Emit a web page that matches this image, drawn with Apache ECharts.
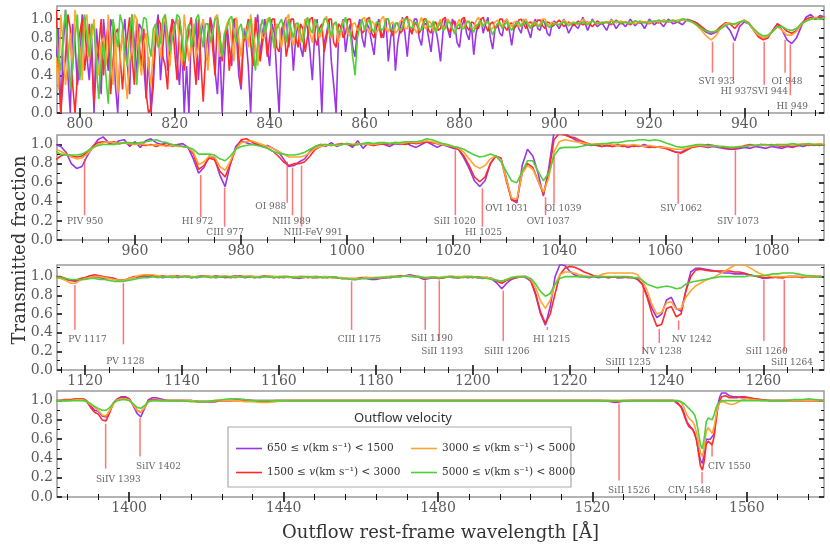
<!DOCTYPE html>
<html><head><meta charset="utf-8">
<script src="https://cdn.jsdelivr.net/npm/echarts/dist/echarts.min.js"></script>
<style>html,body{margin:0;padding:0;background:#fff}#c{width:830px;height:556px}</style>
</head><body><div id="c"></div>
<script>
// ---------------- DATA ----------------
const velLo = [650, 1500, 3000, 5000];
const velHi = [1500, 3000, 5000, 8000];
const velNames = velLo.map((lo, k) => lo + ' ≤ v(km s⁻¹) < ' + velHi[k]);
const colors = ['#9a35e8', '#ff2a2a', '#ffa530', '#4fcf3a'];

const xTicks1 = [800, 820, 840, 860, 880, 900, 920, 940];
const xTicks2 = [960, 980, 1000, 1020, 1040, 1060, 1080];
const xTicks3 = [1120, 1140, 1160, 1180, 1200, 1220, 1240, 1260];
const xTicks4 = [1400, 1440, 1480, 1520, 1560];
const yTicks = [0, 0.2, 0.4, 0.6, 0.8, 1.0];
const yMinor = [0.1, 0.3, 0.5, 0.7, 0.9, 1.1];

// Panel 1
const wl1 = [795,795.5,796,796.5,797,797.5,798,798.5,799,799.5,
800,800.5,801,801.5,802,802.5,803,803.5,804,804.5,
805,805.5,806,806.5,807,807.5,808,808.5,809,809.5,
810,810.5,811,811.5,812,812.5,813,813.5,814,814.5,
815,815.5,816,816.5,817,817.5,818,818.5,819,819.5,
820,820.5,821,821.5,822,822.5,823,823.5,824,824.5,
825,825.5,826,826.5,827,827.5,828,828.5,829,829.5,
830,830.5,831,831.5,832,832.5,833,833.5,834,834.5,
835,835.5,836,836.5,837,837.5,838,838.5,839,839.5,
840,840.5,841,841.5,842,842.5,843,843.5,844,844.5,
845,845.5,846,846.5,847,847.5,848,848.5,849,849.5,
850,850.5,851,851.5,852,852.5,853,853.5,854,854.5,
855,855.5,856,856.5,857,857.5,858,858.5,859,859.5,
860,860.5,861,861.5,862,862.5,863,863.5,864,864.5,
865,865.5,866,866.5,867,867.5,868,868.5,869,869.5,
870,870.5,871,871.5,872,872.5,873,873.5,874,874.5,
875,875.5,876,876.5,877,877.5,878,878.5,879,879.5,
880,880.5,881,881.5,882,882.5,883,883.5,884,884.5,
885,885.5,886,886.5,887,887.5,888,888.5,889,889.5,
890,890.5,891,891.5,892,892.5,893,893.5,894,894.5,
895,895.5,896,896.5,897,897.5,898,898.5,899,899.5,
900,901,902,903,904,905,906,907,908,909,910,911,912,913,914,
915,916,917,918,919,920,921,922,923,924,925,926,927,928,929,930,931,932,933,934,
935,936,937,938,939,940,941,942,943,944,945,946,947,948,949,950,951,952,953,954,
955,956,957];
const p1Purple = [0.55,0.9,0.0,0.7,1.1,0.4,0.0,0.95,0.75,0.3,
0.5,1.05,0.95,0.6,0.35,0.8,0.0,0.9,0.6,0.2,
1.0,0.7,0.45,1.0,0.9,0.3,0.0,0.65,0.8,1.0,
0.55,0.2,1.05,0.75,0.4,0.95,0.9,0.5,0.15,0.6,
0.0,0.3,0.85,1.05,0.35,0.7,1.0,0.45,0.6,1.0,
0.95,0.55,0.3,0.8,0.0,0.5,0.0,0.9,0.7,1.0,
0.35,0.8,1.0,0.6,0.55,1.02,0.9,0.45,0.2,0.75,
0.0,0.6,0.95,0.7,0.5,1.0,0.85,0.4,0.25,0.9,
0.8,0.5,0.0,0.75,0.9,1.05,0.6,0.85,1.0,0.7,
0.5,0.95,0.85,0.4,0.0,0.8,0.95,1.02,0.7,0.9,
0.45,0.8,0.95,0.7,0.6,1.0,0.9,0.65,0.35,0.85,
1.0,0.6,0.0,0.75,0.85,1.0,0.55,0.3,0.0,0.8,
0.9,1.0,0.65,0.85,0.95,0.7,0.6,0.9,1.0,0.8,
0.7,0.95,0.9,0.75,0.62,0.9,1.0,0.85,0.8,1.0,
0.55,0.8,0.95,0.45,0.75,0.9,1.02,0.85,0.6,0.9,
0.85,1.0,1.0,0.8,0.72,0.95,0.95,0.8,0.65,0.9,
0.9,0.75,0.55,0.85,1.0,0.9,0.8,1.0,0.95,0.75,
0.7,0.92,1.0,0.85,0.78,0.95,0.62,0.85,0.95,1.0,
0.85,0.95,1.02,0.8,0.68,0.9,0.95,0.85,0.82,0.97,
1.0,0.88,0.72,0.9,0.98,0.9,0.85,1.0,0.95,0.88,
0.8,0.95,1.0,0.9,0.88,1.0,0.95,0.85,0.82,0.95,
0.98,0.9,1.0,0.85,0.95,0.9,1.02,0.88,1.0,0.92,0.96,0.88,1.0,0.9,0.97,
0.92,1.0,0.93,0.98,0.9,1.0,0.94,0.98,0.92,1.0,0.95,0.97,0.94,1.0,0.98,0.96,0.9,0.86,0.84,0.86,
0.9,0.94,0.88,0.77,0.92,0.97,0.95,0.88,0.82,0.8,0.82,0.88,0.95,0.88,0.78,0.74,0.8,0.92,1.02,1.05,
1.0,1.04,1.02];
const p1Red = [1.1,0.5,0.0,0.35,0.6,1.05,0.9,0.3,0.0,0.4,
0.85,1.0,0.45,0.7,0.95,0.6,0.1,0.5,0.7,1.0,
0.4,0.75,0.95,0.2,0.55,0.85,0.9,0.6,0.25,0.65,
0.8,1.02,0.6,0.3,1.0,0.75,0.5,0.9,0.2,0.0,
0.05,0.45,0.75,1.0,0.95,0.6,0.5,0.25,0.85,1.0,
0.65,0.35,1.0,0.8,0.45,0.7,0.9,1.02,0.6,0.3,
1.0,0.55,0.12,0.6,0.85,1.0,0.7,0.4,1.0,0.85,
0.55,0.8,0.9,0.45,0.7,1.0,1.0,0.6,0.3,0.75,
0.85,1.0,0.75,0.5,1.02,0.8,0.55,0.75,0.9,0.6,
0.8,1.0,1.0,0.7,0.65,0.9,0.95,0.6,0.75,1.0,
1.0,0.8,0.7,0.95,0.9,0.65,0.82,1.0,1.02,0.8,
0.72,0.9,0.95,0.65,0.8,1.0,1.0,0.75,0.7,0.95,
0.92,0.8,0.85,1.0,1.0,0.82,0.78,0.9,0.95,0.85,
0.88,1.0,1.02,0.85,0.8,0.95,0.95,0.8,0.85,1.0,
1.0,0.88,0.82,0.95,0.96,0.85,0.88,1.0,1.03,0.9,
0.84,0.95,0.95,0.85,0.9,1.0,1.0,0.88,0.85,0.95,
0.97,0.88,0.9,1.0,1.02,0.9,0.86,0.95,0.98,0.9,
0.9,1.0,1.02,0.92,0.88,0.97,0.96,0.9,0.9,1.0,
1.02,0.93,0.87,0.95,0.97,0.9,0.92,1.0,1.0,0.92,
0.88,0.95,0.96,0.9,0.93,0.99,1.0,0.95,0.9,0.96,
0.97,0.92,0.94,0.99,0.99,0.93,0.9,0.97,0.96,0.92,
0.94,0.99,0.92,0.97,0.93,0.98,0.94,0.97,0.92,0.98,0.95,0.97,0.94,0.99,0.95,
0.97,0.94,0.98,0.96,0.97,0.95,0.98,0.96,0.99,0.97,0.98,0.97,1.0,0.99,0.98,0.96,0.92,0.88,0.86,0.87,
0.92,0.96,0.95,0.9,0.96,0.99,0.96,0.88,0.81,0.78,0.8,0.88,0.95,0.92,0.87,0.85,0.88,0.95,1.0,1.02,
1.0,1.02,1.01];
const p1Orange = [0.6,0.25,1.05,0.7,0.3,0.55,0.85,0.45,1.1,0.9,
0.7,0.35,0.95,1.05,0.55,0.8,1.0,0.6,0.4,0.75,
0.8,0.5,1.05,0.65,0.3,0.85,0.2,0.6,0.9,0.4,
0.15,0.55,0.7,1.05,1.0,0.6,0.4,0.75,0.85,0.5,
0.3,0.7,0.95,0.8,0.6,0.9,1.05,0.7,0.5,0.85,
0.9,1.02,0.75,0.5,1.05,0.8,0.55,0.75,0.95,0.6,
0.7,0.9,1.0,0.75,0.45,0.8,0.85,1.02,1.05,0.6,
0.65,0.85,0.95,1.0,0.75,0.55,1.02,0.8,0.6,0.9,
0.9,0.7,1.05,0.85,0.7,0.5,0.95,0.8,0.8,1.0,
1.02,0.85,0.68,0.95,0.92,0.7,0.85,1.0,1.05,0.8,
0.72,0.9,0.95,0.75,0.85,1.0,1.0,0.85,0.75,0.95,
0.95,0.8,0.88,1.0,1.03,0.85,0.8,0.95,0.95,0.75,
0.86,0.98,1.0,0.85,0.82,0.95,0.96,0.88,0.9,1.0,
1.02,0.9,0.85,0.98,0.95,0.85,0.9,1.0,1.03,0.9,
0.86,0.95,0.97,0.85,0.88,0.98,1.0,0.9,0.9,1.0,
0.97,0.9,0.85,0.95,1.02,0.92,0.9,0.98,0.96,0.88,
0.88,0.95,1.0,0.9,0.92,1.0,0.97,0.9,0.86,0.95,
1.0,0.92,0.92,0.98,0.97,0.9,0.9,0.98,1.02,0.94,
0.92,0.98,0.96,0.9,0.9,0.97,0.99,0.93,0.93,0.98,
1.0,0.95,0.92,0.97,0.97,0.92,0.94,0.99,1.0,0.95,
0.92,0.97,0.97,0.93,0.95,1.0,1.0,0.95,0.93,0.97,
0.96,0.94,0.99,0.95,0.97,0.94,1.0,0.96,0.98,0.95,0.97,0.96,0.99,0.96,0.98,
0.96,0.97,0.95,0.98,0.97,0.96,0.98,0.97,0.99,0.97,0.98,0.99,1.0,0.98,0.97,0.93,0.88,0.82,0.78,0.82,
0.9,0.95,0.96,0.94,0.97,0.99,0.95,0.88,0.83,0.8,0.82,0.87,0.92,0.88,0.83,0.83,0.87,0.94,0.98,1.0,
1.02,1.0,1.02];
const p1Green = [0.9,0.6,0.45,0.85,1.1,0.7,0.25,0.5,0.8,1.05,
0.35,0.7,1.05,0.8,0.6,0.95,0.9,0.5,0.15,0.55,
0.75,0.4,0.1,0.6,1.0,0.85,0.7,1.05,0.95,0.65,
0.5,0.85,1.05,0.6,0.3,0.7,0.85,1.02,1.0,0.75,
0.6,0.9,0.95,0.7,0.75,1.0,1.05,0.85,0.65,0.8,
0.9,1.05,1.02,0.8,0.55,0.85,0.95,0.7,0.8,1.0,
1.05,0.85,0.7,0.95,0.95,0.75,0.85,1.0,1.02,0.8,
0.6,0.85,0.9,1.0,1.03,0.85,0.75,0.9,0.95,0.8,
0.8,0.95,1.0,0.7,0.45,0.75,0.9,1.0,0.85,0.95,
1.02,0.85,0.7,0.9,0.95,1.0,0.88,0.75,1.0,0.9,
0.8,0.95,0.96,0.85,0.75,0.9,1.02,0.9,0.85,1.0,
0.94,0.85,0.9,1.0,1.0,0.9,0.82,0.95,0.97,0.85,
0.88,0.95,1.02,0.9,0.85,0.6,0.4,0.8,0.92,1.0,
0.88,0.95,1.0,0.9,0.86,0.97,0.96,0.88,0.9,1.0,
1.0,0.9,0.88,0.96,0.95,0.88,0.92,1.0,1.0,0.92,
0.9,0.97,0.96,0.9,0.88,0.96,1.0,0.92,0.92,0.98,
0.85,0.92,0.97,0.88,0.9,0.97,0.96,0.9,0.84,0.92,
0.95,0.9,0.9,0.96,0.98,0.9,0.86,0.93,0.95,0.98,
0.92,0.96,0.98,0.9,0.83,0.9,0.95,0.97,0.9,0.94,
0.97,0.92,0.88,0.93,0.95,0.97,0.92,0.95,0.98,0.93,
0.9,0.95,0.96,0.92,0.93,0.97,0.97,0.93,0.91,0.94,
0.95,0.94,0.97,0.93,0.96,0.95,0.97,0.94,0.98,0.95,0.96,0.97,0.95,0.98,0.96,
0.97,0.95,0.98,0.97,0.96,0.98,0.97,0.99,0.97,0.98,0.99,0.97,1.0,0.99,0.97,0.94,0.9,0.87,0.86,0.87,
0.9,0.93,0.95,0.95,0.97,0.98,0.95,0.9,0.85,0.82,0.83,0.87,0.92,0.92,0.89,0.88,0.9,0.95,0.98,1.0,
1.01,1.0,1.01];
// [label, wavelength, line top, line bottom, label wavelength, label value]
const marks1 = [
  ['SVI 933', 933.3, 0.76, 0.43, 934.2, 0.33],
  ['HI 937', 937.7, 0.75, 0.35, 938.3, 0.23],
  ['SVI 944', 944.2, 0.76, 0.30, 945.4, 0.23],
  ['OI 948', 948.6, 0.78, 0.43, 949.0, 0.33],
  ['HI 949', 949.7, 0.73, 0.19, 950.1, 0.07]
];

// Panel 2
const wl2 = [945,946,947,948,949,950,951,952,953,954,955,956,957,958,959,960,961,962,963,964,
965,966,967,968,969,970,971,972,973,974,975,976,977,978,979,980,981,982,983,984,
985,986,987,988,989,990,991,992,993,994,995,996,997,998,999,1000,1001,1002,1003,1004,
1005,1006,1007,1008,1009,1010,1011,1012,1013,1014,1015,1016,1017,1018,1019,1020,1021,1022,1023,1024,
1025,1026,1027,1028,1029,1030,1031,1032,1033,1034,1035,1036,1037,1038,1039,1040,1041,1042,1043,1044,
1045,1046,1047,1048,1049,1050,1051,1052,1053,1054,1055,1056,1057,1058,1059,1060,1061,1062,1063,1064,
1065,1066,1067,1068,1069,1070,1071,1072,1073,1074,1075,1076,1077,1078,1079,1080,1081,1082,1083,1084,
1085,1086,1087,1088,1089,1090];
const p2Purple = [1.0,0.98,0.92,0.8,0.75,0.77,0.88,0.97,1.05,1.08,
1.02,1.0,1.04,1.05,0.98,1.03,0.97,1.04,1.06,1.02,
1.0,1.02,0.98,1.0,1.01,0.97,0.85,0.7,0.76,0.88,
0.86,0.68,0.56,0.8,0.98,1.04,1.02,1.0,1.01,0.98,
0.99,0.96,0.93,0.85,0.77,0.78,0.82,0.85,0.93,0.98,
1.0,0.98,1.02,0.98,1.0,1.01,0.97,1.04,0.96,1.02,
0.99,1.02,1.0,0.98,1.01,1.0,1.02,0.99,0.97,1.0,
1.03,1.0,0.97,1.0,0.98,0.96,0.95,0.86,0.75,0.62,
0.56,0.62,0.8,0.88,0.86,0.65,0.42,0.39,0.78,0.95,
0.88,0.7,0.46,0.75,1.13,1.15,1.12,1.08,1.05,1.02,
1.0,0.99,1.0,0.98,0.99,0.98,1.0,0.99,0.97,0.99,
0.98,1.0,0.98,0.97,0.98,0.96,0.94,0.92,0.92,0.95,
0.98,0.99,0.98,0.97,0.98,0.97,0.96,0.95,0.95,0.96,
0.97,0.96,0.98,0.97,0.96,0.98,0.97,0.96,0.98,0.97,
0.99,0.98,1.0,0.99,1.0,0.99];
const p2Red = [0.84,0.88,0.9,0.88,0.87,0.88,0.92,0.98,1.02,1.03,
1.02,1.03,1.01,1.02,1.0,1.02,1.0,0.99,1.0,0.98,
1.0,0.99,1.0,0.99,0.98,0.97,0.9,0.74,0.78,0.86,
0.84,0.72,0.66,0.8,0.95,1.05,1.06,1.03,1.0,0.98,
0.96,0.93,0.88,0.82,0.78,0.8,0.8,0.82,0.88,0.95,
0.98,1.0,0.99,1.0,1.01,1.0,0.99,1.0,1.01,1.0,
0.99,1.0,1.01,1.0,1.02,1.01,1.0,1.02,1.01,1.02,
1.03,1.02,1.01,1.0,0.99,0.97,0.95,0.88,0.78,0.66,
0.61,0.66,0.8,0.88,0.85,0.62,0.42,0.41,0.7,0.8,
0.76,0.62,0.48,0.7,1.05,1.12,1.1,1.08,1.07,1.04,
1.02,1.0,0.99,0.98,0.99,0.98,0.99,0.98,0.99,0.98,
0.99,0.98,0.97,0.98,0.97,0.96,0.94,0.92,0.91,0.94,
0.97,0.98,0.99,1.0,0.99,0.98,0.97,0.96,0.96,0.97,
0.99,1.0,0.99,1.0,0.99,1.0,0.99,0.98,0.99,0.98,
0.99,1.0,0.99,1.0,0.99,1.0];
const p2Orange = [0.95,0.93,0.9,0.87,0.85,0.86,0.9,0.96,1.0,1.02,
1.03,1.02,1.01,1.02,1.01,1.0,1.01,1.0,0.99,1.0,
0.99,0.98,0.99,0.98,0.98,0.97,0.92,0.79,0.82,0.88,
0.87,0.77,0.73,0.83,0.95,1.02,1.03,1.04,1.02,1.0,
0.98,0.96,0.93,0.9,0.87,0.87,0.87,0.88,0.92,0.96,
0.98,0.99,1.0,0.99,1.0,1.01,1.0,1.01,1.0,1.01,
1.0,1.01,1.02,1.01,1.02,1.01,1.02,1.03,1.02,1.03,
1.04,1.03,1.01,1.0,0.99,0.98,0.96,0.92,0.85,0.78,
0.75,0.78,0.85,0.88,0.84,0.64,0.44,0.43,0.7,0.78,
0.74,0.62,0.5,0.65,0.92,1.03,1.05,1.04,1.03,1.02,
1.01,1.0,1.01,1.0,1.01,1.0,0.99,1.0,0.99,1.0,
0.99,0.98,0.99,0.98,0.97,0.97,0.96,0.95,0.95,0.96,
0.98,0.99,0.99,0.98,0.99,0.98,0.98,0.97,0.97,0.98,
0.98,0.99,0.99,1.0,0.99,0.99,1.0,0.99,1.0,0.99,
1.0,1.01,1.0,1.0,1.01,1.0];
const p2Green = [0.93,0.9,0.89,0.89,0.89,0.9,0.93,0.97,0.99,1.0,
1.0,1.0,1.01,1.02,1.02,1.01,1.02,1.03,1.04,1.05,
1.03,1.02,1.0,0.99,0.98,0.97,0.95,0.9,0.9,0.9,
0.89,0.85,0.83,0.88,0.95,0.98,0.99,1.0,0.99,0.98,
0.96,0.93,0.91,0.9,0.89,0.89,0.9,0.92,0.95,0.98,
1.0,1.0,0.99,1.0,1.0,1.01,1.0,1.0,1.01,1.02,
1.01,1.02,1.02,1.01,1.02,1.02,1.03,1.03,1.03,1.04,
1.06,1.05,1.03,1.01,1.0,0.98,0.97,0.95,0.92,0.89,
0.87,0.88,0.9,0.88,0.82,0.72,0.62,0.6,0.72,0.83,
0.83,0.72,0.62,0.7,0.88,0.96,0.97,0.97,0.97,0.98,
0.99,1.0,1.0,1.01,1.01,1.02,1.02,1.03,1.04,1.04,
1.05,1.05,1.04,1.05,1.04,1.02,1.0,0.98,0.97,0.98,
0.99,1.0,1.0,0.99,0.99,0.98,0.98,0.97,0.97,0.98,
0.98,0.99,0.99,1.0,1.0,0.99,1.0,1.0,1.0,1.01,
1.0,1.0,1.01,1.0,1.0,1.0];
const marks2 = [
  ['PIV 950', 950.5, 0.85, 0.26, 950.6, 0.19],
  ['HI 972', 972.4, 0.68, 0.24, 971.8, 0.19],
  ['CIII 977', 976.9, 0.55, 0.14, 977.0, 0.08],
  ['OI 988', 988.7, 0.82, 0.39, 985.6, 0.35],
  ['NIII 989', 989.7, 0.76, 0.26, 989.5, 0.19],
  ['NIII-FeV 991', 991.4, 0.78, 0.14, 993.6, 0.08],
  ['SiII 1020', 1020.4, 0.94, 0.26, 1020.3, 0.19],
  ['HI 1025', 1025.5, 0.54, 0.14, 1025.7, 0.08],
  ['OVI 1031', 1031.4, 0.37, 0.365, 1030.1, 0.33],
  ['OVI 1037', 1037.4, 0.45, 0.26, 1037.9, 0.19],
  ['OI 1039', 1039.0, 0.87, 0.38, 1040.7, 0.33],
  ['SIV 1062', 1062.4, 0.90, 0.38, 1063.0, 0.33],
  ['SIV 1073', 1073.2, 0.94, 0.26, 1073.7, 0.19]
];

// Panel 3
const wl3 = [1114,1115,1116,1117,1118,1119,1120,1121,1122,1123,1124,1125,1126,1127,1128,1129,1130,1131,1132,1133,
1134,1135,1136,1137,1138,1139,1140,1141,1142,1143,1144,1145,1146,1147,1148,1149,1150,1151,1152,1153,
1154,1155,1156,1157,1158,1159,1160,1161,1162,1163,1164,1165,1166,1167,1168,1169,1170,1171,1172,1173,
1174,1175,1176,1177,1178,1179,1180,1181,1182,1183,1184,1185,1186,1187,1188,1189,1190,1191,1192,1193,
1194,1195,1196,1197,1198,1199,1200,1201,1202,1203,1204,1205,1206,1207,1208,1209,1210,1211,1212,1213,
1214,1215,1216,1217,1218,1219,1220,1221,1222,1223,1224,1225,1226,1227,1228,1229,1230,1231,1232,1233,
1234,1235,1236,1237,1238,1239,1240,1241,1242,1243,1244,1245,1246,1247,1248,1249,1250,1251,1252,1253,
1254,1255,1256,1257,1258,1259,1260,1261,1262,1263,1264,1265,1266,1267,1268,1269,1270,1271,1272];
const p3Purple = [1.0,0.99,0.97,0.96,0.95,0.97,0.98,0.99,1.0,0.99,
0.98,0.99,0.98,0.96,0.96,0.98,0.99,1.0,1.01,1.0,
1.01,1.0,0.99,1.0,1.01,0.99,1.0,1.01,1.0,0.99,
1.0,1.01,1.0,0.99,1.0,0.99,1.0,1.01,1.0,0.99,
1.0,1.0,0.99,1.0,1.0,0.99,1.0,0.99,1.0,0.99,
0.98,0.99,1.0,0.99,0.99,1.0,0.99,1.0,0.99,0.98,
0.98,0.97,0.97,0.98,0.98,0.97,0.97,0.98,0.99,0.99,
1.0,1.0,1.01,1.02,1.01,0.99,0.97,0.98,0.99,0.98,
0.99,1.0,0.99,0.99,1.0,0.99,1.0,0.99,0.98,0.99,
0.97,0.93,0.87,0.93,0.97,0.99,1.0,0.99,0.95,0.8,
0.6,0.48,0.68,1.0,1.13,1.12,1.06,1.02,1.0,1.0,
0.99,1.0,0.99,1.0,0.99,1.0,0.99,0.99,1.0,0.99,
0.97,0.92,0.8,0.66,0.56,0.6,0.75,0.78,0.66,0.63,
0.85,1.05,1.09,1.09,1.08,1.07,1.06,1.05,1.04,1.04,
1.03,1.03,1.03,1.02,1.01,1.0,0.98,0.99,0.99,1.0,
0.99,1.0,1.0,1.0,0.99,1.0,1.0,1.0,1.0];
const p3Red = [1.0,1.0,0.98,0.96,0.96,0.98,0.99,1.01,1.02,1.01,
1.0,0.99,0.98,0.96,0.96,0.98,1.0,1.0,1.01,1.02,
1.01,1.0,1.01,1.0,1.0,1.01,1.0,1.0,0.99,1.0,
1.01,1.0,1.0,1.01,1.0,1.0,0.99,1.0,1.01,1.0,
1.0,0.99,1.0,1.01,1.0,1.0,0.99,1.0,1.0,0.99,
1.0,1.0,0.99,1.0,1.0,0.99,1.0,0.99,0.99,0.98,
0.98,0.98,0.98,0.99,0.99,0.98,0.98,0.99,0.99,1.0,
1.0,1.01,1.01,1.01,1.0,1.0,0.98,0.99,1.0,0.98,
0.99,1.0,1.0,0.99,1.0,1.0,0.99,1.0,0.99,0.99,
0.98,0.95,0.93,0.96,0.98,0.99,1.0,1.0,0.96,0.82,
0.62,0.5,0.6,0.82,1.02,1.09,1.11,1.1,1.08,1.05,
1.03,1.01,1.0,1.0,0.99,1.0,0.99,1.0,0.99,0.99,
0.98,0.92,0.78,0.6,0.47,0.49,0.66,0.68,0.57,0.6,
0.85,1.0,1.07,1.08,1.07,1.06,1.06,1.06,1.06,1.06,
1.05,1.05,1.04,1.02,1.01,1.0,0.99,0.99,1.0,0.99,
0.99,1.0,1.0,1.0,1.0,1.0,1.0,1.0,1.0];
const p3Orange = [0.99,0.98,0.96,0.93,0.93,0.96,0.98,0.99,1.0,1.0,
0.99,0.98,0.97,0.96,0.96,0.98,0.99,1.01,1.02,1.02,
1.02,1.01,1.0,1.0,1.01,1.0,1.0,1.01,1.0,1.0,
1.0,1.01,1.0,1.0,1.0,1.01,1.0,1.0,1.0,1.0,
1.01,1.0,1.0,1.0,1.01,1.0,1.0,1.0,0.99,1.0,
1.0,0.99,1.0,1.0,0.99,1.0,1.0,0.99,0.99,0.99,
0.98,0.98,0.98,0.98,0.99,0.99,0.99,0.99,1.0,1.0,
1.0,1.0,1.01,1.01,1.0,1.0,0.99,0.99,1.0,0.99,
1.0,1.0,1.0,1.0,1.0,1.0,1.0,0.99,0.99,0.99,
0.98,0.96,0.95,0.97,0.99,1.0,1.0,1.0,0.97,0.88,
0.74,0.66,0.75,0.92,1.02,1.05,1.05,1.04,1.02,1.01,
1.0,1.0,1.01,1.03,1.04,1.04,1.04,1.04,1.04,1.04,
1.02,0.96,0.85,0.7,0.6,0.62,0.72,0.73,0.65,0.66,
0.78,0.85,0.9,0.93,0.96,0.98,1.0,1.03,1.06,1.09,
1.12,1.14,1.13,1.1,1.07,1.04,1.02,1.01,1.0,1.0,
1.0,1.0,1.0,1.0,1.0,1.0,1.0,1.0,1.0];
const p3Green = [0.99,0.99,0.98,0.97,0.97,0.97,0.97,0.98,0.98,0.97,
0.97,0.96,0.95,0.95,0.95,0.96,0.97,0.98,0.99,0.99,
1.0,0.99,1.0,1.0,0.99,1.0,1.0,1.0,0.99,1.0,
1.0,1.0,0.99,1.0,1.0,1.0,1.0,0.99,1.0,1.0,
1.0,0.99,1.0,1.0,1.0,0.99,1.0,1.0,1.0,0.99,
0.99,1.0,1.0,0.99,1.0,0.99,0.99,1.0,0.99,0.98,
0.98,0.97,0.97,0.98,0.98,0.98,0.99,0.99,0.99,1.0,
1.0,1.0,1.01,1.0,1.0,1.0,0.99,0.99,0.99,0.99,
0.99,1.0,1.0,0.99,0.99,1.0,1.0,0.99,0.99,0.98,
0.97,0.96,0.95,0.97,0.99,1.0,1.0,1.0,0.98,0.92,
0.84,0.79,0.82,0.92,0.98,1.0,1.0,1.0,1.0,1.0,
1.0,1.0,1.0,1.0,1.0,1.0,1.0,1.0,1.0,0.99,
0.99,0.96,0.92,0.9,0.88,0.89,0.9,0.89,0.87,0.88,
0.92,0.94,0.95,0.96,0.97,0.98,0.99,1.0,1.0,1.0,
1.0,1.0,1.0,1.01,1.01,1.01,1.01,1.02,1.03,1.03,
1.04,1.04,1.04,1.03,1.02,1.01,1.01,1.0,1.0];
const marks3 = [
  ['PV 1117', 1117.9, 0.91, 0.43, 1120.5, 0.33],
  ['PV 1128', 1127.9, 0.93, 0.275, 1128.3, 0.09],
  ['CIII 1175', 1175.0, 0.95, 0.43, 1176.6, 0.33],
  ['SiII 1190', 1190.2, 0.96, 0.43, 1191.6, 0.34],
  ['SiII 1193', 1193.1, 0.96, 0.32, 1193.7, 0.2],
  ['SiIII 1206', 1206.3, 0.85, 0.31, 1207.0, 0.2],
  ['HI 1215', 1215.4, 0.46, 0.43, 1216.3, 0.33],
  ['SiIII 1235', 1235.2, 0.91, 0.18, 1232.1, 0.08],
  ['NV 1238', 1238.5, 0.44, 0.29, 1239.0, 0.2],
  ['NV 1242', 1242.5, 0.53, 0.43, 1245.2, 0.33],
  ['SiII 1260', 1260.1, 0.965, 0.31, 1260.7, 0.2],
  ['SiII 1264', 1264.3, 0.965, 0.2, 1265.9, 0.08]
];

// Panel 4
const wl4 = [1381,1382,1383,1384,1385,1386,1387,1388,1389,1390,
1391,1392,1393,1394,1395,1396,1397,1398,1399,1400,
1401,1402,1403,1404,1405,1406,1407,1408,1409,1410,
1412,1414,1416,1418,1420,1422,1424,1426,1428,1430,
1432,1434,1436,1438,1440,1442,1444,1446,1448,1450,
1452,1454,1456,1458,1460,1462,1464,1466,1468,1470,
1472,1474,1476,1478,1480,1482,1484,1486,1488,1490,
1492,1494,1496,1498,1500,1502,1504,1506,1508,1510,
1512,1514,1516,1518,1520,1522,1524,1526,1528,1530,
1532,1534,1536,1538,1540,
1541,1541.5,1542,1542.5,1543,1543.5,1544,1544.5,1545,1545.5,
1546,1546.5,1547,1547.5,1548,1548.5,1549,1549.5,1550,1550.5,
1551,1551.5,1552,1552.5,1553,1553.5,1554,1554.5,1555,1555.5,
1556,1556.5,1557,1557.5,1558,1558.5,1559,1559.5,1560,
1562,1564,1566,1568,1570,1572,1574,1576,1578,1580];
const p4Purple = [1.0,1.0,1.0,1.0,1.01,1.01,1.01,1.02,1.0,0.95,
0.9,0.89,0.84,0.83,0.9,0.98,1.02,1.04,1.04,1.02,
0.95,0.87,0.83,0.92,1.01,1.03,1.03,1.02,1.01,1.0,
1.0,1.0,1.0,0.99,0.99,0.99,1.0,1.0,1.01,1.01,
1.0,1.0,1.0,1.0,1.0,1.0,1.0,1.0,1.0,1.0,
1.0,1.0,1.0,1.0,1.0,1.0,1.0,1.0,1.0,1.0,
1.0,1.0,1.0,1.0,1.0,1.0,1.0,1.0,1.0,1.0,
1.0,1.0,1.0,1.0,1.0,1.0,1.0,1.0,1.0,1.0,
1.0,1.0,1.0,1.0,1.0,1.0,0.995,0.98,0.995,1.0,
1.0,1.0,1.0,1.0,1.0,
1.0,1.0,0.97,0.95,0.94,0.9,0.84,0.78,0.75,0.73,
0.7,0.66,0.58,0.48,0.38,0.35,0.45,0.6,0.62,0.6,
0.58,0.65,0.8,0.95,1.04,1.08,1.09,1.08,1.06,1.05,
1.04,1.04,1.04,1.04,1.04,1.03,1.03,1.03,1.03,
1.02,1.01,1.0,1.0,1.0,1.0,1.0,1.0,1.0,1.0];
const p4Red = [1.0,1.0,1.01,1.01,1.01,1.02,1.02,1.02,0.99,0.93,
0.88,0.86,0.8,0.79,0.88,0.98,1.02,1.03,1.03,1.02,
0.96,0.9,0.88,0.93,1.0,1.01,1.01,1.0,1.0,1.0,
1.0,1.0,1.0,0.99,0.99,0.99,1.0,1.0,1.0,1.0,
1.0,0.99,0.99,1.0,1.0,1.0,1.0,1.0,1.0,1.0,
1.0,1.0,1.0,1.0,1.0,1.0,1.0,1.0,1.0,1.0,
1.0,1.0,1.0,1.0,1.0,1.0,1.0,1.0,1.0,1.0,
1.0,1.0,1.0,1.0,1.0,1.0,1.0,1.0,1.0,1.0,
1.0,1.0,1.0,1.0,1.0,1.0,1.0,0.99,1.0,1.0,
1.0,1.0,1.0,1.0,1.0,
1.0,1.0,0.98,0.96,0.93,0.88,0.82,0.77,0.73,0.71,
0.7,0.68,0.6,0.45,0.32,0.28,0.38,0.55,0.58,0.56,
0.54,0.62,0.78,0.93,1.0,1.04,1.06,1.05,1.04,1.03,
1.03,1.03,1.03,1.03,1.04,1.04,1.04,1.04,1.03,
1.02,1.01,1.0,1.0,1.0,1.0,1.0,1.0,1.0,1.0];
const p4Orange = [1.0,1.0,1.0,1.0,1.0,1.01,1.01,1.01,0.99,0.96,
0.93,0.9,0.85,0.84,0.9,0.97,1.01,1.02,1.02,1.01,
0.96,0.9,0.88,0.93,0.99,1.0,1.0,1.0,1.0,1.0,
1.0,1.0,1.0,0.99,0.99,1.0,1.0,1.0,1.0,0.99,
0.99,0.98,0.98,0.99,1.0,1.0,1.0,1.0,1.0,1.0,
1.0,1.0,1.0,1.0,1.0,1.0,1.0,1.0,1.0,1.0,
1.0,1.0,1.0,1.0,1.0,1.0,1.0,1.0,1.0,1.0,
1.0,1.0,1.0,1.0,1.0,1.0,1.0,1.0,1.0,1.0,
1.0,1.0,1.0,1.0,1.0,1.0,1.0,1.0,1.0,1.0,
1.0,1.0,1.0,1.0,1.0,
1.0,1.0,1.0,0.99,0.98,0.95,0.9,0.85,0.82,0.8,
0.78,0.74,0.66,0.56,0.46,0.42,0.52,0.68,0.72,0.7,
0.66,0.72,0.84,0.93,0.98,1.0,0.99,0.98,0.97,0.97,
0.96,0.96,0.97,0.98,0.99,1.0,1.01,1.02,1.02,
1.01,1.0,1.0,1.0,1.0,1.0,1.0,1.0,1.0,1.0];
const p4Green = [1.0,1.0,1.0,1.0,1.0,1.0,1.0,1.0,0.99,0.97,
0.94,0.92,0.9,0.9,0.93,0.98,1.0,1.01,1.01,1.0,
0.97,0.93,0.92,0.95,0.99,1.0,1.0,1.0,1.0,1.0,
1.0,1.0,0.99,0.99,0.99,1.0,1.01,1.02,1.02,1.01,
1.0,1.0,1.0,1.0,1.0,1.0,1.0,1.0,1.0,1.0,
1.0,1.0,1.0,1.0,1.0,1.0,1.0,1.0,1.0,1.0,
1.0,1.0,1.0,1.0,1.0,1.0,1.0,1.0,1.0,1.0,
1.0,1.0,1.0,1.0,1.0,1.0,1.0,1.0,1.0,1.0,
1.0,1.0,1.0,1.0,1.0,1.0,1.0,1.0,1.0,1.0,
1.0,1.0,1.0,1.0,1.0,
1.0,1.0,1.0,1.0,0.99,0.98,0.96,0.94,0.92,0.9,
0.88,0.85,0.78,0.66,0.54,0.5,0.62,0.78,0.82,0.81,
0.8,0.85,0.92,0.97,0.99,1.0,1.0,1.0,1.0,1.0,
1.0,1.0,1.0,1.0,1.0,1.0,1.0,1.0,1.0,
1.0,1.0,1.0,1.0,1.0,1.01,1.01,1.02,1.01,1.0];
const marks4 = [
  ['SiIV 1393', 1393.9, 0.76, 0.295, 1397.2, 0.18],
  ['SiIV 1402', 1402.8, 0.82, 0.42, 1407.6, 0.31],
  ['SiII 1526', 1526.9, 0.97, 0.17, 1529.5, 0.07],
  ['CIV 1548', 1548.4, 0.26, 0.14, 1545.1, 0.07],
  ['CIV 1550', 1551.0, 0.57, 0.42, 1555.5, 0.31]
];

// ---------------- CHART ----------------
const SERIF = '"DejaVu Serif", serif';
const LBL = '#5a5a5a';
const panels = [
  {wl: wl1, ys: [p1Purple, p1Red, p1Orange, p1Green], marks: marks1, xmin: 795.2, xmax: 956.8, ymax: 1.14, ticks: xTicks1, minor: 5, top: 6, h: 107},
  {wl: wl2, ys: [p2Purple, p2Red, p2Orange, p2Green], marks: marks2, xmin: 945.3, xmax: 1089.9, ymax: 1.1, ticks: xTicks2, minor: 5, top: 135, h: 105},
  {wl: wl3, ys: [p3Purple, p3Red, p3Orange, p3Green], marks: marks3, xmin: 1114.2, xmax: 1272.5, ymax: 1.125, ticks: xTicks3, minor: 5, top: 265, h: 105},
  {wl: wl4, ys: [p4Purple, p4Red, p4Orange, p4Green], marks: marks4, xmin: 1381.3, xmax: 1580, ymax: 1.1, ticks: xTicks4, minor: 8, top: 391, h: 106}
];

const grids = [], xAxes = [], yAxes = [], series = [];
const tick = (vals, len, w) => ({show: true, inside: true, length: len, customValues: vals, lineStyle: {color: '#111', width: w}});

panels.forEach((p, i) => {
  grids.push({left: 57, right: 6, top: p.top, height: p.h, show: true, borderColor: '#9a9a9a', borderWidth: 1.5, containLabel: false});
  const minorX = [];
  for (let v = Math.ceil(p.xmin / p.minor) * p.minor; v <= p.xmax; v += p.minor) {
    if (p.ticks.indexOf(v) < 0) minorX.push(v);
  }
  const yMin = yMinor.filter(v => v < p.ymax);
  const bx = (extra) => Object.assign({type: 'value', gridIndex: i, min: p.xmin, max: p.xmax,
    axisLine: {show: false}, splitLine: {show: false}, axisLabel: {show: false}}, extra);
  const by = (extra) => Object.assign({type: 'value', gridIndex: i, min: 0, max: p.ymax,
    axisLine: {show: false}, splitLine: {show: false}, axisLabel: {show: false}}, extra);
  const mainX = bx({position: 'bottom', axisTick: tick(p.ticks, 5, 1.6),
    axisLabel: {show: true, customValues: p.ticks, margin: 4, color: LBL, fontSize: 14, fontFamily: SERIF,
      formatter: v => String(Math.round(v))}});
  if (i === 3) {
    mainX.name = 'Outflow rest-frame wavelength [Å]';
    mainX.nameLocation = 'middle';
    mainX.nameGap = 27;
    mainX.nameTextStyle = {fontSize: 18, fontFamily: SERIF, color: '#333'};
  }
  xAxes.push(mainX);
  xAxes.push(bx({position: 'bottom', axisTick: tick(minorX, 3, 1)}));
  xAxes.push(bx({position: 'top', axisTick: tick(p.ticks, 5, 1.6)}));
  xAxes.push(bx({position: 'top', axisTick: tick(minorX, 3, 1)}));
  yAxes.push(by({position: 'left', axisTick: tick(yTicks, 5, 1.6),
    axisLabel: {show: true, customValues: yTicks, margin: 4, color: LBL, fontSize: 14, fontFamily: SERIF,
      formatter: v => Number(v).toFixed(1)}}));
  yAxes.push(by({position: 'left', axisTick: tick(yMin, 3, 1)}));
  yAxes.push(by({position: 'right', axisTick: tick(yTicks, 5, 1.6)}));
  yAxes.push(by({position: 'right', axisTick: tick(yMin, 3, 1)}));

  p.ys.forEach((ys, k) => {
    series.push({
      type: 'line', name: velNames[k], xAxisIndex: 4 * i, yAxisIndex: 4 * i,
      data: p.wl.map((x, j) => [x, ys[j]]),
      symbol: 'none', showSymbol: false, silent: true, z: 2 + k,
      lineStyle: {color: colors[k], width: 1.6}, itemStyle: {color: colors[k]}
    });
  });
  const mk = p.marks;
  series.push({
    type: 'custom', xAxisIndex: 4 * i, yAxisIndex: 4 * i, silent: true, z: 10,
    data: mk.map(m => [m[1], m[2], m[3], m[4], m[5]]),
    encode: {x: [0, 3], y: [1, 2, 4]},
    renderItem: function (params, api) {
      const a = api.coord([api.value(0), api.value(1)]);
      const b = api.coord([api.value(0), api.value(2)]);
      const l = api.coord([api.value(3), api.value(4)]);
      return {type: 'group', children: [
        {type: 'line', shape: {x1: a[0], y1: a[1], x2: b[0], y2: b[1]},
          style: {stroke: 'rgba(255,60,60,0.7)', lineWidth: 1.5}},
        {type: 'text', style: {text: mk[params.dataIndex][0], x: l[0], y: l[1], align: 'center', verticalAlign: 'middle',
          fill: '#666', fontSize: 9, fontFamily: SERIF}}
      ]};
    }
  });
});

const legendText = {
  fontFamily: SERIF, fontSize: 10.5, color: '#333',
  rich: {a: {fontFamily: SERIF, fontSize: 10.5, color: '#333'},
         i: {fontFamily: SERIF, fontSize: 10.5, fontStyle: 'italic', color: '#333'}}
};
const legendFmt = function (name) {
  const k = velNames.indexOf(name);
  return '{a|' + velLo[k] + ' ≤ }{i|v}{a|(km s⁻¹) < ' + velHi[k] + '}';
};
const legendBase = {orient: 'vertical', top: 438, icon: 'rect', itemWidth: 26, itemHeight: 1.6,
  itemGap: 13, selectedMode: false, textStyle: legendText, formatter: legendFmt, z: 6};

const option = {
  animation: false,
  backgroundColor: '#fff',
  grid: grids, xAxis: xAxes, yAxis: yAxes, series: series,
  legend: [
    Object.assign({data: [velNames[0], velNames[1]], left: 231}, legendBase),
    Object.assign({data: [velNames[2], velNames[3]], left: 406}, legendBase)
  ],
  graphic: [
    {type: 'rect', z: 1, shape: {x: 228, y: 427, width: 343, height: 60},
      style: {fill: '#fff', stroke: '#aaaaaa', lineWidth: 1.2}},
    {type: 'text', z: 6, x: 403, y: 418, style: {text: 'Outflow velocity', align: 'center', verticalAlign: 'middle',
      fontSize: 13, fontFamily: '"Noto Sans", sans-serif', fill: '#333'}},
    {type: 'text', z: 6, x: 20, y: 250, rotation: Math.PI / 2, style: {text: 'Transmitted fraction', align: 'center',
      verticalAlign: 'middle', fontSize: 18, fontFamily: SERIF, fill: '#333'}}
  ]
};
const chart = echarts.init(document.getElementById('c'));
chart.setOption(option);
</script>
</body></html>
